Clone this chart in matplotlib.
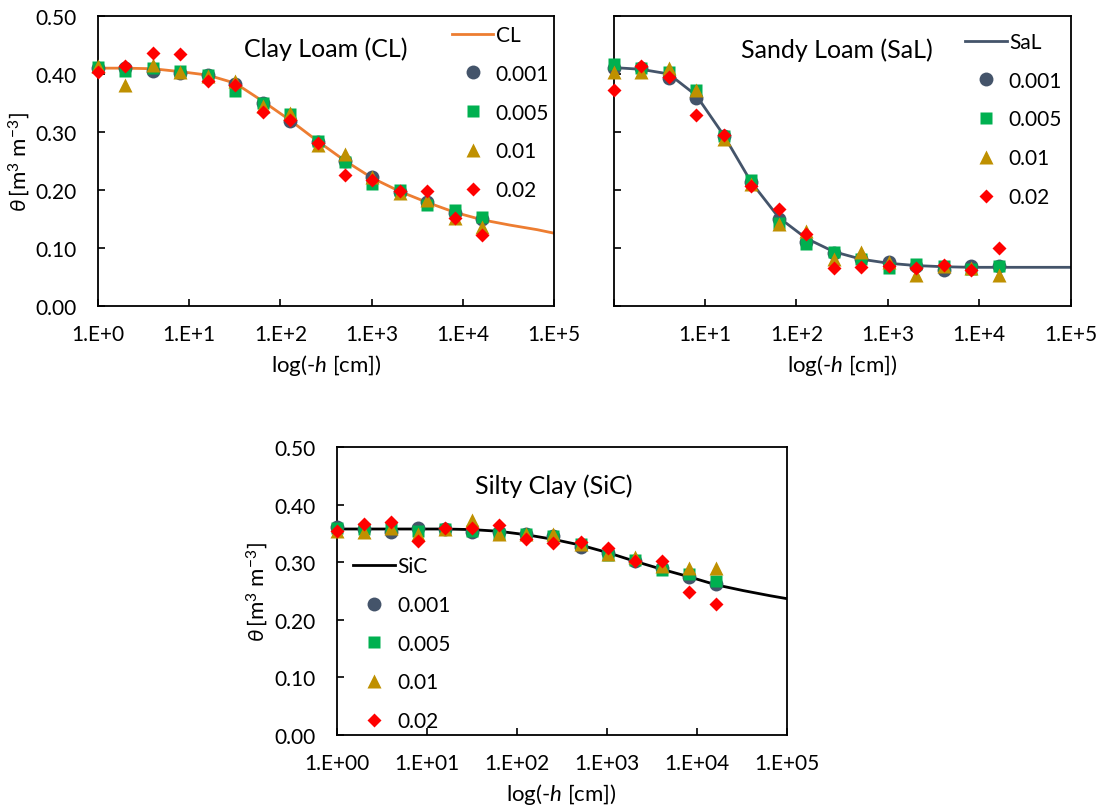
import matplotlib
matplotlib.use('Agg')
import matplotlib.pyplot as plt
from matplotlib.ticker import FormatStrFormatter

plt.rcParams['font.family'] = ['Lato', 'DejaVu Sans']
plt.rcParams['mathtext.fontset'] = 'custom'
plt.rcParams['mathtext.rm'] = 'Lato'
plt.rcParams['mathtext.it'] = 'Lato:italic'
plt.rcParams['mathtext.fallback'] = 'stixsans'

# suction heads of the measured points [cm]
h_pts = [1, 2, 4, 8, 16, 32, 64, 128, 256, 512, 1024, 2048, 4096, 8192, 16384]
# fitted curve sample positions
h_fit = h_pts + [32768, 65536, 100000]

series = ['0.001', '0.005', '0.01', '0.02']

cl_fit = [0.410, 0.410, 0.409, 0.404, 0.398, 0.384, 0.353, 0.320, 0.284, 0.250,
          0.220, 0.197, 0.178, 0.161, 0.148, 0.139, 0.131, 0.125]
cl_001 = [0.410, 0.410, 0.405, 0.402, 0.398, 0.383, 0.350, 0.318, 0.283, 0.250,
          0.222, 0.196, 0.178, 0.160, 0.150]
cl_005 = [0.412, 0.405, 0.410, 0.405, 0.398, 0.371, 0.350, 0.330, 0.285, 0.248,
          0.210, 0.200, 0.173, 0.165, 0.153]
cl_01 = [0.413, 0.381, 0.415, 0.403, 0.397, 0.387, 0.345, 0.333, 0.278, 0.261,
         0.222, 0.195, 0.183, 0.152, 0.135]
cl_02 = [0.404, 0.413, 0.436, 0.435, 0.388, 0.381, 0.335, 0.320, 0.280, 0.225,
         0.217, 0.197, 0.198, 0.152, 0.122]

sal_fit = [0.411, 0.408, 0.400, 0.363, 0.294, 0.213, 0.152, 0.116, 0.093, 0.080,
           0.073, 0.069, 0.067, 0.066, 0.066, 0.066, 0.066, 0.066]
sal_001 = [0.410, 0.410, 0.393, 0.358, 0.292, 0.213, 0.150, 0.110, 0.090, 0.080,
           0.075, 0.068, 0.062, 0.068, 0.068]
sal_005 = [0.417, 0.410, 0.403, 0.372, 0.293, 0.217, 0.142, 0.106, 0.093, 0.080,
           0.065, 0.072, 0.068, 0.063, 0.068]
sal_01 = [0.404, 0.403, 0.410, 0.372, 0.288, 0.210, 0.140, 0.129, 0.080, 0.093,
          0.075, 0.053, 0.068, 0.065, 0.053]
sal_02 = [0.372, 0.413, 0.395, 0.329, 0.295, 0.207, 0.167, 0.123, 0.064, 0.066,
          0.068, 0.065, 0.070, 0.062, 0.099]

sic_fit = [0.358, 0.358, 0.358, 0.358, 0.358, 0.357, 0.354, 0.348, 0.340, 0.330,
           0.317, 0.302, 0.288, 0.275, 0.261, 0.251, 0.242, 0.237]
sic_001 = [0.362, 0.358, 0.352, 0.360, 0.358, 0.352, 0.352, 0.350, 0.345, 0.327,
           0.317, 0.303, 0.290, 0.275, 0.262]
sic_005 = [0.360, 0.358, 0.360, 0.355, 0.358, 0.355, 0.350, 0.350, 0.345, 0.332,
           0.312, 0.305, 0.287, 0.280, 0.267]
sic_01 = [0.355, 0.352, 0.360, 0.350, 0.358, 0.373, 0.350, 0.350, 0.350, 0.332,
          0.315, 0.310, 0.293, 0.290, 0.290]
sic_02 = [0.355, 0.367, 0.371, 0.338, 0.360, 0.360, 0.365, 0.340, 0.334, 0.335,
          0.325, 0.302, 0.303, 0.248, 0.228]

x_ticks = [1, 10, 100, 1000, 10000, 100000]
top_left_labels = ['1.E+0', '1.E+1', '1.E+2', '1.E+3', '1.E+4', '1.E+5']
top_right_labels = ['', '1.E+1', '1.E+2', '1.E+3', '1.E+4', '1.E+5']
bottom_labels = ['1.E+00', '1.E+01', '1.E+02', '1.E+03', '1.E+04', '1.E+05']
y_ticks = [0.0, 0.1, 0.2, 0.3, 0.4, 0.5]

markers = [('o', '#44546A', 10), ('s', '#00B050', 9), ('^', '#BF9000', 10.5), ('D', '#FF0000', 7.6)]


def draw_panel(ax, fit, pts, name, title, line_color, xlabels, ylabels, title_xy, leg_xy):
    ax.plot(h_fit, fit, color=line_color, lw=2, label=name, zorder=2)
    for (m, c, ms), vals, lab in zip(markers, pts, series):
        ax.plot(h_pts, vals, ls='none', marker=m, color=c, ms=ms, mec='none', label=lab,
                zorder=3, clip_on=False)
    ax.set_xscale('log')
    ax.set_xlim(1, 1e5)
    ax.set_ylim(0, 0.5)
    ax.set_xticks(x_ticks)
    ax.set_xticklabels(xlabels)
    ax.minorticks_off()
    ax.set_yticks(y_ticks)
    if ylabels:
        ax.yaxis.set_major_formatter(FormatStrFormatter('%.2f'))
        ax.set_ylabel(r'$\theta\,$[m$^{3}$ m$^{-3}$]', fontsize=16, labelpad=3)
    else:
        ax.set_yticklabels([])
    ax.tick_params(axis='both', direction='in', length=5, width=1.2, labelsize=15)
    ax.tick_params(axis='y', pad=15)
    ax.tick_params(axis='x', pad=13)
    ax.set_xlabel('log(-$h$ [cm])', fontsize=16, labelpad=6)
    for s in ax.spines.values():
        s.set_linewidth(1.3)
        s.set_color('black')
        s.set_zorder(2.5)
    ax.text(title_xy[0], title_xy[1], title, transform=ax.transAxes, ha='center', va='center', fontsize=18)
    ax.legend(loc='upper left', bbox_to_anchor=leg_xy, frameon=False, fontsize=15,
              handlelength=2.0, handletextpad=0.1, labelspacing=0.9, borderpad=0, borderaxespad=0)


fig = plt.figure(figsize=(11.03, 8.12), dpi=100)
ax1 = fig.add_axes([0.0888, 0.6225, 0.4134, 0.3565])
ax2 = fig.add_axes([0.5564, 0.6225, 0.4143, 0.3565])
ax3 = fig.add_axes([0.3053, 0.0936, 0.4080, 0.3543])

draw_panel(ax1, cl_fit, [cl_001, cl_005, cl_01, cl_02], 'CL', 'Clay Loam (CL)', '#ED7D31',
           top_left_labels, True, (0.50, 0.888), (0.776, 0.969))
draw_panel(ax2, sal_fit, [sal_001, sal_005, sal_01, sal_02], 'SaL', 'Sandy Loam (SaL)', '#44546A',
           top_right_labels, False, (0.489, 0.884), (0.769, 0.945))
draw_panel(ax3, sic_fit, [sic_001, sic_005, sic_01, sic_02], 'SiC', 'Silty Clay (SiC)', 'black',
           bottom_labels, True, (0.483, 0.867), (0.037, 0.622))

fig.savefig('out.png', dpi=100)
